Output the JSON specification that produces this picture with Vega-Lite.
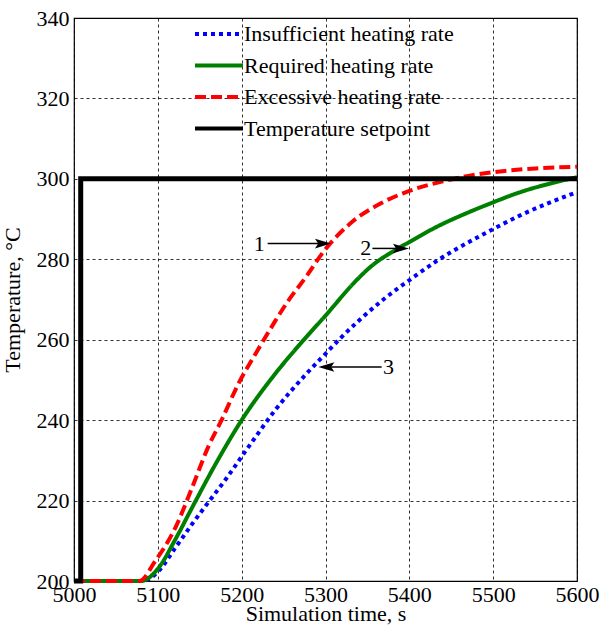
{
  "$schema": "https://vega.github.io/schema/vega-lite/v6.json",
  "width": 503,
  "height": 563,
  "autosize": {"type": "none"},
  "padding": {"left": 74, "top": 18, "right": 23, "bottom": 45},
  "background": "white",
  "config": {
    "view": {"stroke": "black", "strokeWidth": 1.2},
    "font": "Liberation Serif",
    "axis": {
      "domain": false,
      "grid": true,
      "gridDash": [3, 3],
      "gridColor": "black",
      "gridOpacity": 0.8,
      "gridWidth": 1,
      "tickColor": "black",
      "tickSize": 0,
      "labelFont": "Liberation Serif",
      "labelFontSize": 22,
      "labelColor": "black",
      "titleFont": "Liberation Serif",
      "titleFontSize": 22,
      "titleFontWeight": "normal",
      "titleColor": "black"
    },
    "legend": {
      "labelFont": "Liberation Serif",
      "labelFontSize": 22,
      "labelColor": "black",
      "labelLimit": 0,
      "symbolStrokeWidth": 4,
      "symbolType": "M-2,0H2",
      "symbolSize": 576,
      "padding": 0,
      "rowPadding": 6.5,
      "labelOffset": 11
    }
  },
  "datasets": {
    "curves": [
      {"series": "Insufficient heating rate", "t": 5000, "temp": 200},
      {"series": "Insufficient heating rate", "t": 5082, "temp": 200},
      {"series": "Insufficient heating rate", "t": 5101, "temp": 202.5},
      {"series": "Insufficient heating rate", "t": 5120, "temp": 208},
      {"series": "Insufficient heating rate", "t": 5141, "temp": 214.2},
      {"series": "Insufficient heating rate", "t": 5160, "temp": 219.5},
      {"series": "Insufficient heating rate", "t": 5180, "temp": 225},
      {"series": "Insufficient heating rate", "t": 5208, "temp": 233.3},
      {"series": "Insufficient heating rate", "t": 5240, "temp": 242.5},
      {"series": "Insufficient heating rate", "t": 5278, "temp": 251.7},
      {"series": "Insufficient heating rate", "t": 5300, "temp": 256.5},
      {"series": "Insufficient heating rate", "t": 5317, "temp": 260.2},
      {"series": "Insufficient heating rate", "t": 5340, "temp": 264.8},
      {"series": "Insufficient heating rate", "t": 5369, "temp": 270},
      {"series": "Insufficient heating rate", "t": 5404, "temp": 275.4},
      {"series": "Insufficient heating rate", "t": 5432, "temp": 279.5},
      {"series": "Insufficient heating rate", "t": 5472, "temp": 284.4},
      {"series": "Insufficient heating rate", "t": 5498, "temp": 287.3},
      {"series": "Insufficient heating rate", "t": 5531, "temp": 290.8},
      {"series": "Insufficient heating rate", "t": 5571, "temp": 294.4},
      {"series": "Insufficient heating rate", "t": 5600, "temp": 296.7},
      {"series": "Required heating rate", "t": 5000, "temp": 200},
      {"series": "Required heating rate", "t": 5080, "temp": 200},
      {"series": "Required heating rate", "t": 5101, "temp": 203.3},
      {"series": "Required heating rate", "t": 5120, "temp": 210},
      {"series": "Required heating rate", "t": 5141, "temp": 218.3},
      {"series": "Required heating rate", "t": 5170, "temp": 229.5},
      {"series": "Required heating rate", "t": 5200, "temp": 240},
      {"series": "Required heating rate", "t": 5238, "temp": 251},
      {"series": "Required heating rate", "t": 5270, "temp": 259},
      {"series": "Required heating rate", "t": 5300, "temp": 266},
      {"series": "Required heating rate", "t": 5337, "temp": 274.8},
      {"series": "Required heating rate", "t": 5353, "temp": 278},
      {"series": "Required heating rate", "t": 5385, "temp": 282.5},
      {"series": "Required heating rate", "t": 5400, "temp": 284.3},
      {"series": "Required heating rate", "t": 5432, "temp": 288},
      {"series": "Required heating rate", "t": 5472, "temp": 291.8},
      {"series": "Required heating rate", "t": 5498, "temp": 294},
      {"series": "Required heating rate", "t": 5531, "temp": 296.6},
      {"series": "Required heating rate", "t": 5571, "temp": 299},
      {"series": "Required heating rate", "t": 5600, "temp": 300.4},
      {"series": "Excessive heating rate", "t": 5000, "temp": 200},
      {"series": "Excessive heating rate", "t": 5078, "temp": 200},
      {"series": "Excessive heating rate", "t": 5097, "temp": 205},
      {"series": "Excessive heating rate", "t": 5121, "temp": 213.3},
      {"series": "Excessive heating rate", "t": 5141, "temp": 223.3},
      {"series": "Excessive heating rate", "t": 5160, "temp": 233.3},
      {"series": "Excessive heating rate", "t": 5176, "temp": 240},
      {"series": "Excessive heating rate", "t": 5196, "temp": 249},
      {"series": "Excessive heating rate", "t": 5218, "temp": 257},
      {"series": "Excessive heating rate", "t": 5239, "temp": 264.3},
      {"series": "Excessive heating rate", "t": 5254, "temp": 269.2},
      {"series": "Excessive heating rate", "t": 5278, "temp": 276},
      {"series": "Excessive heating rate", "t": 5298, "temp": 282},
      {"series": "Excessive heating rate", "t": 5333, "temp": 289.5},
      {"series": "Excessive heating rate", "t": 5365, "temp": 293.8},
      {"series": "Excessive heating rate", "t": 5400, "temp": 297},
      {"series": "Excessive heating rate", "t": 5440, "temp": 299.4},
      {"series": "Excessive heating rate", "t": 5472, "temp": 300.8},
      {"series": "Excessive heating rate", "t": 5511, "temp": 301.9},
      {"series": "Excessive heating rate", "t": 5551, "temp": 302.6},
      {"series": "Excessive heating rate", "t": 5600, "temp": 303},
      {"series": "Temperature setpoint", "t": 5000, "temp": 200},
      {"series": "Temperature setpoint", "t": 5008, "temp": 200},
      {"series": "Temperature setpoint", "t": 5008, "temp": 300},
      {"series": "Temperature setpoint", "t": 5600, "temp": 300}
    ],
    "arrows": [
      {"label": "1", "lx": 5221, "t1": 5231, "t2": 5297, "temp": 283.9, "dir": "right"},
      {"label": "2", "lx": 5348, "t1": 5356, "t2": 5390, "temp": 282.7, "dir": "right"},
      {"label": "3", "lx": 5375, "t1": 5301, "t2": 5367, "temp": 253.2, "dir": "left"}
    ]
  },
  "layer": [
    {
      "mark": {"type": "rect", "fill": "white", "stroke": "black", "strokeWidth": 1.2},
      "encoding": {
        "x": {"datum": 5135, "type": "quantitative"},
        "x2": {"datum": 5600},
        "y": {"datum": 307, "type": "quantitative"},
        "y2": {"datum": 340}
      }
    },
    {
      "data": {"name": "curves"},
      "transform": [{"filter": "datum.series === 'Insufficient heating rate'"}],
      "mark": {"type": "line", "strokeWidth": 4, "strokeCap": "butt", "interpolate": "monotone"},
      "encoding": {
        "x": {"field": "t", "type": "quantitative", "scale": {"domain": [5000, 5600], "nice": false, "zero": false},
              "axis": {"values": [5000, 5100, 5200, 5300, 5400, 5500, 5600], "format": "d", "title": "Simulation time, s", "labelPadding": 3, "titlePadding": -2, "labelFlush": false}},
        "y": {"field": "temp", "type": "quantitative", "scale": {"domain": [200, 340], "nice": false, "zero": false},
              "axis": {"values": [200, 220, 240, 260, 280, 300, 320, 340], "format": "d", "title": "Temperature, °C", "labelPadding": 5, "titlePadding": 12, "labelFlush": false}},
        "color": {"field": "series", "type": "nominal",
                  "scale": {"domain": ["Insufficient heating rate", "Required heating rate", "Excessive heating rate", "Temperature setpoint"],
                            "range": ["#0000ff", "#008000", "#ff0000", "#000000"]},
                  "legend": {"title": null, "orient": "none", "legendX": 131, "legendY": 2}},
        "strokeDash": {"field": "series", "type": "nominal",
                  "scale": {"domain": ["Insufficient heating rate", "Required heating rate", "Excessive heating rate", "Temperature setpoint"],
                            "range": [[4, 4], [1, 0], [11, 5], [1, 0]]},
                  "legend": {"title": null, "orient": "none", "legendX": 131, "legendY": 2}},
        "order": {"value": null}
      }
    },
    {
      "data": {"name": "curves"},
      "transform": [{"filter": "datum.series === 'Required heating rate'"}],
      "mark": {"type": "line", "strokeWidth": 4, "strokeCap": "butt", "interpolate": "monotone"},
      "encoding": {
        "x": {"field": "t", "type": "quantitative"},
        "y": {"field": "temp", "type": "quantitative"},
        "color": {"field": "series", "type": "nominal"},
        "strokeDash": {"field": "series", "type": "nominal"},
        "order": {"value": null}
      }
    },
    {
      "data": {"name": "curves"},
      "transform": [{"filter": "datum.series === 'Excessive heating rate'"}],
      "mark": {"type": "line", "strokeWidth": 4, "strokeCap": "butt", "interpolate": "monotone"},
      "encoding": {
        "x": {"field": "t", "type": "quantitative"},
        "y": {"field": "temp", "type": "quantitative"},
        "color": {"field": "series", "type": "nominal"},
        "strokeDash": {"field": "series", "type": "nominal"},
        "order": {"value": null}
      }
    },
    {
      "data": {"name": "curves"},
      "transform": [{"filter": "datum.series === 'Temperature setpoint'"}],
      "mark": {"type": "line", "strokeWidth": 5, "strokeCap": "butt", "strokeJoin": "miter"},
      "encoding": {
        "x": {"field": "t", "type": "quantitative"},
        "y": {"field": "temp", "type": "quantitative"},
        "color": {"field": "series", "type": "nominal"},
        "strokeDash": {"field": "series", "type": "nominal"},
        "order": {"value": null}
      }
    },
    {
      "data": {"name": "arrows"},
      "mark": {"type": "rule", "color": "black", "strokeWidth": 1.5},
      "encoding": {
        "x": {"field": "t1", "type": "quantitative"},
        "x2": {"field": "t2"},
        "y": {"field": "temp", "type": "quantitative"}
      }
    },
    {
      "data": {"name": "arrows"},
      "transform": [{"filter": "datum.dir === 'right'"}],
      "mark": {"type": "point", "shape": "M-1,-0.6L1,0L-1,0.6L-0.6,0Z", "filled": true, "color": "black", "size": 256, "opacity": 1},
      "encoding": {
        "x": {"field": "t2", "type": "quantitative"},
        "y": {"field": "temp", "type": "quantitative"}
      }
    },
    {
      "data": {"name": "arrows"},
      "transform": [{"filter": "datum.dir === 'left'"}],
      "mark": {"type": "point", "shape": "M1,-0.6L-1,0L1,0.6L0.6,0Z", "filled": true, "color": "black", "size": 256, "opacity": 1},
      "encoding": {
        "x": {"field": "t1", "type": "quantitative"},
        "y": {"field": "temp", "type": "quantitative"}
      }
    },
    {
      "data": {"name": "arrows"},
      "mark": {"type": "text", "font": "Liberation Serif", "fontSize": 22, "color": "black", "align": "center", "baseline": "middle"},
      "encoding": {
        "x": {"field": "lx", "type": "quantitative"},
        "y": {"field": "temp", "type": "quantitative"},
        "text": {"field": "label"}
      }
    }
  ]
}
